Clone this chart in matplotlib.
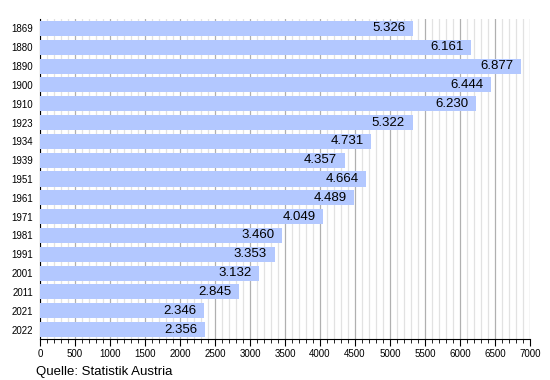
import matplotlib
matplotlib.use("Agg")
import matplotlib.pyplot as plt
from matplotlib.ticker import MultipleLocator

plt.rcParams['font.family'] = ['Liberation Sans', 'DejaVu Sans']

years = ['1869', '1880', '1890', '1900', '1910', '1923', '1934', '1939', '1951',
         '1961', '1971', '1981', '1991', '2001', '2011', '2021', '2022']
values = [5326, 6161, 6877, 6444, 6230, 5322, 4731, 4357, 4664,
          4489, 4049, 3460, 3353, 3132, 2845, 2346, 2356]

fig = plt.figure(figsize=(5.5, 3.8), dpi=100)
ax = fig.add_axes([40 / 550, 1 - 339 / 380, 490 / 550, 320 / 380])

pos = list(range(len(years)))
ax.barh(pos, values, height=0.8, color='#b3c8ff', zorder=3)
ax.set_ylim(len(years) - 0.5, -0.5)
ax.set_xlim(0, 7000)

# value labels, German thousands separator
for p, v in zip(pos, values):
    label = f"{v:,}".replace(',', '.')
    ax.text(v - 110, p, label, ha='right', va='center', fontsize=9.5, zorder=4)

ax.set_yticks(pos)
ax.set_yticklabels(years, fontsize=7)
ax.tick_params(axis='y', length=0, pad=5)

ax.xaxis.set_major_locator(MultipleLocator(500))
ax.xaxis.set_minor_locator(MultipleLocator(100))
ax.tick_params(axis='x', which='major', length=5, labelsize=7, pad=2, direction='out')
ax.tick_params(axis='x', which='minor', length=3, direction='out')

ax.grid(axis='x', which='major', color='#b0b0b0', linewidth=0.9, zorder=1)
ax.grid(axis='x', which='minor', color='#e2e2e2', linewidth=0.9, zorder=0)
ax.grid(axis='y', visible=False)

for s in ['top', 'right']:
    ax.spines[s].set_visible(False)
ax.spines['left'].set_color('black')
ax.spines['bottom'].set_color('black')

fig.text(36 / 550, 1 - 372 / 380, 'Quelle: Statistik Austria', fontsize=9.5,
         ha='left', va='center')

fig.savefig('out.png', dpi=100)
